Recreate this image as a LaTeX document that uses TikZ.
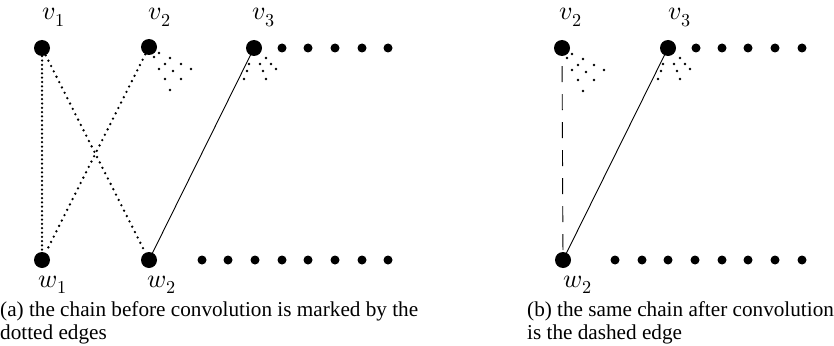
\documentclass[tikz,border=0pt]{standalone}
\usepackage{fontspec}
\setmainfont{Liberation Serif}
\usepackage{unicode-math}
\setmathfont{Latin Modern Math}
\tikzset{
  bigdot/.style={circle,fill=black,draw=none,minimum size=16pt,inner sep=0pt},
  smalldot/.style={circle,fill=black,draw=none,minimum size=9pt,inner sep=0pt},
  tinydot/.style={circle,fill=black,draw=none,minimum size=2.6pt,inner sep=0pt},
  dotedge/.style={line width=2.5pt,line cap=round,dash pattern=on 0pt off 4.3pt},
  diagdotedge/.style={line width=2.6pt,line cap=round,dash pattern=on 0pt off 6pt},
  solidedge/.style={line width=0.9pt},
  dashedge/.style={line width=0.9pt,dash pattern=on 16pt off 12pt,dash phase=18pt},
  vlabel/.style={anchor=base,inner sep=0pt,font=\fontsize{26}{28}\selectfont},
  captext/.style={anchor=base west,inner sep=0pt,font=\fontsize{21.2}{23}\selectfont,align=left}
}
\begin{document}
\begin{tikzpicture}[x=1pt,y=-1pt]
\useasboundingbox (0,0) rectangle (834,345);
% ---------- left panel ----------
\node[bigdot] (v1) at (42,48) {};
\node[bigdot] (v2) at (149,47) {};
\node[bigdot] (v3) at (254,48) {};
\node[bigdot] (w1) at (42,260) {};
\node[bigdot] (w2) at (149,260) {};
\foreach \x [count=\i] in {282,308,335,362,388}
  \node[smalldot] (lt\i) at (\x,48) {};
\foreach \x [count=\i] in {202,228,255,282,308,335,362,388}
  \node[smalldot] (lb\i) at (\x,260) {};
\node[vlabel] (lv1) at (54,20) {$v_1$};
\node[vlabel] (lv2) at (160,20) {$v_2$};
\node[vlabel] (lv3) at (264,20) {$v_3$};
\node[vlabel] (lw1) at (53,287) {$w_1$};
\node[vlabel] (lw2) at (162,287) {$w_2$};
\draw[dotedge] (v1) -- (w1);
\draw[diagdotedge] (v1) -- (w2);
\draw[diagdotedge] (v2) -- (w1);
\draw[solidedge] (v3.center) -- (w2.center);
% fans
\foreach \dx/\dy [count=\i] in {5/10,10/6,16/17,21/11,32/17,42/22,10/22,24/24,16/32,32/32,21/43}
  \node[tinydot] (lfa\i) at ([shift={(\dx,\dy)}]v2.center) {};
\foreach \dx/\dy [count=\i] in {-5/16,-7/23,-10/31,6/16,9/23,12/31,12/10,17/16,22/21}
  \node[tinydot] (lfb\i) at ([shift={(\dx,\dy)}]v3.center) {};
\node[captext] (capa) at (0,339) {(a) the chain before convolution is marked by the\\dotted edges};
% ---------- right panel ----------
\node[bigdot] (rv2) at (562,48) {};
\node[bigdot] (rv3) at (668,48) {};
\node[bigdot] (rw2) at (563,260) {};
\foreach \x [count=\i] in {696,722,748,775,802}
  \node[smalldot] (rt\i) at (\x,48) {};
\foreach \x [count=\i] in {615,642,668,695,722,748,775,802}
  \node[smalldot] (rb\i) at (\x,260) {};
\node[vlabel] (rlv2) at (571,20) {$v_2$};
\node[vlabel] (rlv3) at (680,20) {$v_3$};
\node[vlabel] (rlw2) at (578,287) {$w_2$};
\draw[dashedge] (rv2) -- (rw2);
\draw[solidedge] (rv3.center) -- (rw2.center);
\foreach \dx/\dy [count=\i] in {5/10,10/6,16/17,21/11,32/17,42/22,10/22,24/24,16/32,32/32,21/43}
  \node[tinydot] (rfa\i) at ([shift={(\dx,\dy)}]rv2.center) {};
\foreach \dx/\dy [count=\i] in {-5/16,-7/23,-10/31,6/16,9/23,12/31,12/10,17/16,22/21}
  \node[tinydot] (rfb\i) at ([shift={(\dx,\dy)}]rv3.center) {};
\node[captext] (capb) at (527,339) {(b) the same chain after convolution\\is the dashed edge};
\end{tikzpicture}
\end{document}
